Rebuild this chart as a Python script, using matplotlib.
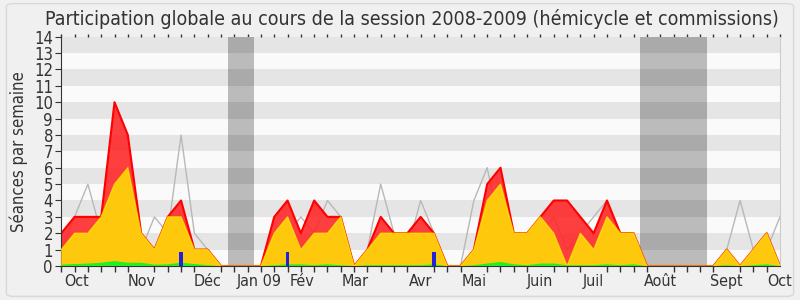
import numpy as np
import matplotlib
matplotlib.use("Agg")
import matplotlib.pyplot as plt
from matplotlib.patches import FancyBboxPatch

# --- Données (séances par semaine, semaine 0 = début oct. 2008) ---
semaines = np.arange(55)

presence_totale = [2, 3, 3, 3, 10, 8, 2, 1, 3, 4, 1, 1, 0, 0, 0,
                   0, 3, 4, 2, 4, 3, 3, 0, 1, 3, 2, 2, 3, 2, 0,
                   0, 1, 5, 6, 2, 2, 3, 4, 4, 3, 2, 4, 2, 2, 0,
                   0, 0, 0, 0, 0, 1, 0, 1, 2, 0]
presence_commission = [1, 2, 2, 3, 5, 6, 2, 1, 3, 3, 1, 1, 0, 0, 0,
                       0, 2, 3, 1, 2, 2, 3, 0, 1, 2, 2, 2, 2, 2, 0,
                       0, 1, 4, 5, 2, 2, 3, 2, 0, 2, 1, 3, 2, 2, 0,
                       0, 0, 0, 0, 0, 1, 0, 1, 2, 0]
interventions = [0.08, 0.12, 0.15, 0.2, 0.3, 0.2, 0.2, 0.08, 0.1, 0.2, 0.12, 0.05, 0, 0, 0,
                 0, 0.05, 0.1, 0.1, 0.05, 0.1, 0.05, 0, 0.05, 0.05, 0.05, 0.05, 0.05, 0.1, 0,
                 0, 0.05, 0.15, 0.25, 0.1, 0.05, 0.15, 0.15, 0.05, 0.05, 0.05, 0.1, 0.05, 0.1, 0,
                 0, 0, 0, 0, 0, 0.05, 0, 0.05, 0.1, 0]
mediane = [1, 3, 5, 2, 5, 2, 1, 3, 2, 8, 2, 1, 0, 0, 0,
           0, 2, 2, 3, 2, 4, 3, 0, 1, 5, 2, 1, 4, 2, 0,
           0, 4, 6, 2, 2, 1, 2, 3, 1, 2, 3, 4, 2, 2, 0,
           0, 0, 0, 0, 0, 1, 4, 1, 1, 3]

questions_semaines = [9, 17, 28]
questions_valeurs = [0.85, 0.85, 0.85]

vacances = [(12.5, 14.5), (43.5, 48.5)]

mois_pos = [1.15, 6, 11, 14.9, 18.1, 22.1, 27, 31, 36, 40, 45, 50, 54]
mois_labels = ['Oct', 'Nov', 'Déc', 'Jan 09', 'Fév', 'Mar', 'Avr', 'Mai',
               'Juin', 'Juil', 'Août', 'Sept', 'Oct']

titre = "Participation globale au cours de la session 2008-2009 (hémicycle et commissions)"

plt.rcParams['font.family'] = ['DejaVu Sans']
plt.rcParams['font.stretch'] = 'condensed'

fig = plt.figure(figsize=(8, 3), dpi=100)
fig.patch.set_facecolor('#f0f0f0')
cadre = FancyBboxPatch((0.008, 0.012), 0.984, 0.976, boxstyle="round,pad=0,rounding_size=0.01",
                       transform=fig.transFigure, facecolor='#f0f0f0', edgecolor='#d8d8d8',
                       lw=1, zorder=-10)
fig.patches.append(cadre)

ax = fig.add_axes([0.0766, 0.1133, 0.8984, 0.7644])
ax.set_facecolor('#fafafa')

# bandes horizontales
for k in range(1, 14, 2):
    ax.axhspan(k, k + 1, color='#e5e5e5', lw=0, zorder=0)
# vacances parlementaires
for a, b in vacances:
    ax.axvspan(a, b, color='#bbbbbb', lw=0, zorder=0.5)
    for k in range(1, 14, 2):
        ax.fill_between([a, b], k, k + 1, color='#aaaaaa', lw=0, zorder=0.6)

ax.plot(semaines, mediane, color='#b8b8b8', lw=1, zorder=1)
ax.fill_between(semaines, 0, presence_totale, facecolor='#ff2a2a', alpha=0.9, lw=0, zorder=2)
ax.plot(semaines, presence_totale, color='#ff0000', lw=1.5, zorder=2.1)
ax.fill_between(semaines, 0, presence_commission, facecolor='#ffd20a', alpha=0.95, lw=0, zorder=3)
ax.plot(semaines, presence_commission, color='#ffee00', lw=1, alpha=0.7, zorder=3.1)
ax.fill_between(semaines, 0, interventions, facecolor='#22ee22', lw=0, zorder=4)
ax.bar(questions_semaines, questions_valeurs, width=0.28, color='#2222dd', zorder=5)

ax.set_xlim(0, 54)
ax.set_ylim(0, 14)
ax.set_yticks(range(15))
ax.set_xticks(mois_pos)
ax.set_xticklabels(mois_labels)
ax.set_xticks(semaines, minor=True)
ax.tick_params(axis='x', which='major', length=0, labelsize=11.5, colors='#333333', pad=6)
ax.tick_params(axis='x', which='minor', length=4, width=1, color='#333333')
ax.tick_params(axis='y', length=4, labelsize=12, colors='#333333', pad=2)

# petites marques en haut
haut = ax.secondary_xaxis('top')
haut.set_xticks(semaines)
haut.set_xticklabels([])
haut.tick_params(length=2, width=1, color='#333333')
haut.spines['top'].set_visible(False)

ax.spines['top'].set_visible(False)
ax.spines['right'].set_color('#cccccc')
ax.spines['left'].set_color('#333333')
ax.spines['bottom'].set_color('#333333')

ax.set_ylabel('Séances par semaine', fontsize=12, color='#333333', labelpad=4)
fig.text(0.515, 0.938, titre, ha='center', va='center', fontsize=14, color='#333333')

fig.savefig('out.png', dpi=100, facecolor=fig.get_facecolor())
